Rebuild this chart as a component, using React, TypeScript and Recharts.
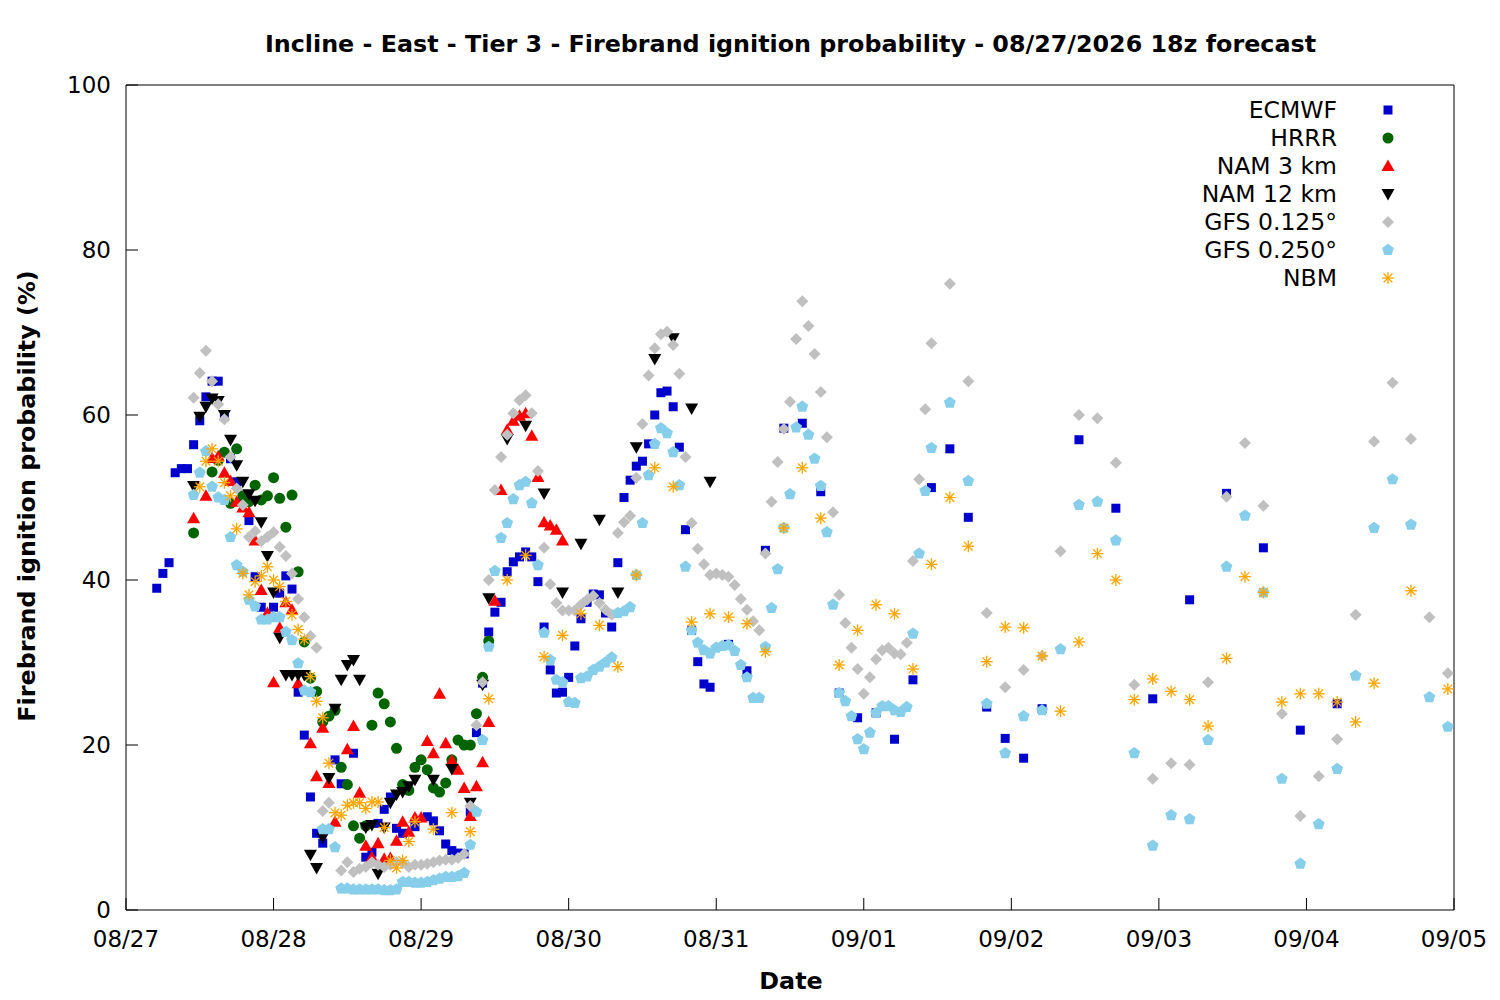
import React from 'react';
import { ScatterChart, Scatter, XAxis, YAxis } from 'recharts';

const FONT = '"DejaVu Sans", sans-serif';

// x = hours after 08/27 00z, y = probability (%)
const DAY_TICKS = [0, 24, 48, 72, 96, 120, 144, 168, 192, 216];
const DAY_LABELS = ['08/27', '08/28', '08/29', '08/30', '08/31', '09/01', '09/02', '09/03', '09/04', '09/05'];
const PROB_TICKS = [0, 20, 40, 60, 80, 100];

const ECMWF: [number, number][] = [
  [5, 39.0], [6, 40.8], [7, 42.1], [8, 53.0], [9, 53.5], [10, 53.5], [11, 56.4], [12, 59.3], [13, 62.2],
  [14, 64.1], [15, 64.1], [16, 59.8], [17, 54.7], [18, 51.9], [19, 50.1], [20, 47.2], [21, 40.4], [22, 36.7],
  [24, 36.7], [25, 38.4], [26, 40.5], [27, 38.9], [28, 26.4], [29, 21.2], [30, 13.7], [31, 9.3], [32, 8.1],
  [34, 18.2], [35, 15.3], [37, 19.0], [39, 6.4], [40, 7.0], [41, 10.5], [42, 12.2], [43, 13.7], [44, 9.9],
  [45, 9.3], [47, 10.1], [49, 11.3], [50, 10.8], [51, 9.6], [52, 8.0], [53, 7.2], [54, 6.9], [55, 6.8],
  [56, 11.9], [57, 21.5], [58, 27.5], [59, 33.7], [60, 36.1], [61, 37.3], [62, 41.0], [63, 42.2], [64, 42.8],
  [65, 43.4], [66, 42.8], [67, 39.8], [68, 34.3], [69, 29.1], [70, 26.3], [71, 26.4], [72, 28.2], [73, 32.0],
  [74, 35.3], [75, 37.3], [76, 38.3], [77, 38.2], [78, 36.0], [79, 34.3], [80, 42.1], [81, 50.0], [82, 52.1],
  [83, 53.8], [84, 54.4], [85, 56.5], [86, 60.0], [87, 62.7], [88, 62.9], [89, 61.0], [90, 56.1], [91, 46.1],
  [92, 33.9], [93, 30.1], [94, 27.4], [95, 27.0], [98, 32.2], [101, 29.0], [104, 43.6], [107, 58.4],
  [110, 59.0], [113, 50.7], [116, 26.3], [119, 23.3], [122, 23.9], [125, 20.7], [128, 27.9], [131, 51.2],
  [134, 55.9], [137, 47.6], [140, 24.6], [143, 20.8], [146, 18.4], [149, 24.4], [155, 57.0], [161, 48.7],
  [167, 25.6], [173, 37.6], [179, 50.5], [185, 43.9], [191, 21.8], [197, 25.0],
];

const HRRR: [number, number][] = [
  [11, 45.7], [14, 53.1], [15, 54.5], [16, 55.5], [17, 49.3], [18, 55.9], [19, 50.2], [20, 49.5],
  [21, 51.5], [22, 49.7], [23, 50.2], [24, 52.4], [25, 49.9], [26, 46.4], [27, 50.3], [28, 41.0],
  [29, 32.5], [30, 28.1], [31, 26.5], [32, 22.8], [33, 23.5], [34, 24.2], [35, 17.3], [36, 15.2],
  [37, 10.2], [38, 8.7], [39, 10.2], [40, 22.4], [41, 26.3], [42, 25.0], [43, 22.8], [44, 19.6],
  [45, 15.2], [46, 14.5], [47, 17.3], [48, 18.2], [49, 17.0], [50, 14.8], [51, 14.3], [52, 15.4],
  [53, 18.2], [54, 20.6], [55, 20.0], [56, 20.0], [57, 23.8], [58, 28.2], [59, 32.6],
];

const NAM3: [number, number][] = [
  [11, 47.5], [13, 50.2], [14, 54.8], [15, 55.0], [16, 53.0], [17, 52.0], [18, 49.5], [19, 48.8],
  [20, 48.2], [21, 44.8], [22, 38.8], [23, 36.0], [24, 27.6], [25, 34.2], [26, 37.3], [27, 36.4],
  [28, 27.5], [30, 20.2], [31, 16.2], [32, 22.1], [33, 15.4], [34, 10.7], [36, 19.5], [37, 22.3],
  [38, 14.2], [39, 7.8], [40, 6.4], [41, 8.1], [42, 6.2], [43, 6.3], [44, 8.4], [45, 10.7], [46, 9.5],
  [47, 11.2], [48, 11.2], [49, 20.5], [50, 19.0], [51, 26.2], [52, 20.2], [53, 18.1], [54, 17.0],
  [55, 14.8], [56, 11.4], [57, 15.0], [58, 17.9], [59, 22.8], [60, 37.5], [61, 50.9], [62, 58.2],
  [63, 59.3], [64, 59.9], [65, 60.2], [66, 57.5], [67, 52.5], [68, 47.0], [69, 46.6], [70, 46.1], [71, 44.8],
];

const NAM12: [number, number][] = [
  [11, 51.4], [12, 59.8], [13, 61.0], [14, 62.0], [15, 61.7], [16, 60.0], [17, 57.0], [18, 53.9],
  [19, 51.9], [20, 50.4], [21, 49.6], [22, 47.0], [23, 42.9], [24, 38.5], [25, 33.0], [26, 28.5],
  [27, 28.5], [28, 28.5], [29, 28.5], [30, 6.7], [31, 5.1], [32, 8.8], [33, 16.0], [34, 24.4],
  [35, 27.9], [36, 29.7], [37, 30.3], [38, 27.9], [39, 10.0], [40, 10.3], [41, 4.4], [42, 10.0],
  [43, 13.0], [44, 14.0], [45, 14.3], [46, 15.0], [47, 15.8], [50, 15.8], [53, 17.1], [56, 13.0],
  [58, 27.3], [59, 37.8], [62, 57.1], [65, 58.7], [68, 50.5], [71, 38.5], [74, 44.4], [77, 47.3],
  [80, 38.5], [83, 56.1], [86, 66.8], [89, 69.3], [92, 60.8], [95, 51.9],
];

const GFS125: [number, number][] = [
  [11, 62.1], [12, 65.1], [13, 67.8], [14, 64.1], [15, 61.3], [16, 59.5], [17, 54.9], [18, 51.1],
  [19, 49.1], [20, 45.2], [21, 45.9], [22, 44.7], [23, 45.2], [24, 45.8], [25, 44.0], [26, 42.9],
  [27, 40.8], [28, 37.7], [29, 35.5], [30, 33.2], [31, 31.8], [32, 12.0], [33, 13.0], [35, 4.8],
  [36, 5.8], [37, 4.6], [38, 5.0], [39, 5.2], [40, 5.8], [41, 5.5], [42, 5.2], [43, 5.5], [44, 5.8],
  [45, 5.7], [46, 5.2], [47, 5.5], [48, 5.5], [49, 5.6], [50, 5.8], [51, 6.0], [52, 6.1], [53, 6.1],
  [54, 6.3], [55, 6.8], [56, 12.6], [57, 22.4], [58, 27.6], [59, 40.0], [60, 50.9], [61, 54.9],
  [62, 57.6], [63, 60.2], [64, 61.8], [65, 62.4], [66, 60.2], [67, 53.2], [68, 43.9], [69, 39.5],
  [70, 37.2], [71, 36.3], [72, 36.3], [73, 36.3], [74, 37.0], [75, 37.6], [76, 38.1], [77, 37.2],
  [78, 36.4], [79, 35.8], [80, 45.7], [81, 47.0], [82, 47.8], [83, 52.4], [84, 58.9], [85, 64.8],
  [86, 68.1], [87, 69.8], [88, 70.1], [89, 68.5], [90, 65.0], [91, 54.9], [92, 46.9], [93, 43.8],
  [94, 41.9], [95, 40.6], [96, 40.8], [97, 40.6], [98, 40.4], [99, 39.4], [100, 37.7], [101, 36.4],
  [102, 35.0], [103, 33.9], [104, 43.2], [105, 49.5], [106, 54.3], [107, 58.3], [108, 61.6],
  [109, 69.2], [110, 73.8], [111, 70.8], [112, 67.4], [113, 62.8], [114, 57.3], [115, 48.2],
  [116, 38.2], [117, 34.8], [118, 31.8], [119, 29.2], [120, 26.2], [121, 28.2], [122, 30.4],
  [123, 31.5], [124, 31.8], [125, 31.1], [126, 31.0], [127, 32.4], [128, 42.3], [129, 52.2],
  [130, 60.7], [131, 68.7], [134, 75.9], [137, 64.1], [140, 36.0], [143, 27.0], [146, 29.1],
  [149, 30.8], [152, 43.5], [155, 60.0], [158, 59.6], [161, 54.2], [164, 27.3], [167, 15.9],
  [170, 17.8], [173, 17.6], [176, 27.6], [179, 50.1], [182, 56.6], [185, 49.0], [188, 23.8],
  [191, 11.4], [194, 16.2], [197, 20.7], [200, 35.8], [203, 56.8], [206, 63.9], [209, 57.1],
  [212, 35.5], [215, 28.7],
];

const GFS250: [number, number][] = [
  [11, 50.3], [12, 53.0], [13, 55.6], [14, 51.3], [15, 50.0], [16, 49.7], [17, 45.2], [18, 41.8],
  [19, 41.0], [20, 37.6], [21, 36.8], [22, 35.2], [23, 35.2], [24, 35.5], [25, 35.5], [26, 33.7],
  [27, 32.7], [28, 29.9], [29, 26.6], [30, 26.4], [32, 9.8], [33, 9.8], [34, 7.6], [35, 2.6],
  [36, 2.6], [37, 2.5], [38, 2.5], [39, 2.5], [40, 2.5], [41, 2.5], [42, 2.4], [43, 2.4], [44, 2.5],
  [45, 3.4], [46, 3.4], [47, 3.3], [48, 3.3], [49, 3.4], [50, 3.6], [51, 3.8], [52, 4.0], [53, 4.0],
  [54, 4.1], [55, 4.5], [56, 7.9], [57, 11.9], [58, 20.6], [59, 31.9], [60, 41.1], [61, 45.1],
  [62, 46.9], [63, 49.8], [64, 51.5], [65, 51.9], [66, 49.3], [67, 41.8], [68, 33.6], [69, 30.3],
  [70, 27.9], [71, 27.6], [72, 25.2], [73, 25.1], [74, 28.1], [75, 28.3], [76, 29.1], [77, 29.5],
  [78, 30.0], [79, 30.6], [80, 36.0], [81, 36.2], [82, 36.7], [83, 40.6], [84, 46.9], [85, 52.7],
  [86, 56.5], [87, 58.4], [88, 57.8], [89, 55.5], [90, 51.5], [91, 41.6], [92, 33.9], [93, 32.4],
  [94, 31.5], [95, 31.1], [96, 31.8], [97, 32.0], [98, 32.1], [99, 31.4], [100, 29.7], [101, 28.2],
  [102, 25.7], [103, 25.7], [104, 31.9], [105, 36.6], [106, 41.3], [107, 46.3], [108, 50.4],
  [109, 58.5], [110, 61.0], [111, 57.6], [112, 54.7], [113, 51.4], [114, 45.8], [115, 37.0],
  [116, 26.3], [117, 25.3], [118, 23.5], [119, 20.7], [120, 19.5], [121, 21.5], [122, 23.9],
  [123, 24.7], [124, 24.7], [125, 24.2], [126, 24.0], [127, 24.6], [128, 33.5], [129, 43.2],
  [130, 50.8], [131, 56.0], [134, 61.5], [137, 52.0], [140, 25.0], [143, 19.0], [146, 23.5],
  [149, 24.2], [152, 31.6], [155, 49.1], [158, 49.5], [161, 44.8], [164, 19.0], [167, 7.8],
  [170, 11.5], [173, 11.0], [176, 20.6], [179, 41.6], [182, 47.8], [185, 38.5], [188, 15.9],
  [191, 5.6], [194, 10.4], [197, 17.1], [200, 28.4], [203, 46.3], [206, 52.2], [209, 46.7],
  [212, 25.8], [215, 22.2],
];

const NBM: [number, number][] = [
  [12, 51.3], [13, 54.4], [14, 55.9], [15, 54.4], [16, 51.8], [17, 50.2], [18, 46.2], [19, 40.8],
  [20, 38.2], [21, 39.8], [22, 40.5], [23, 41.6], [24, 40.0], [25, 39.2], [26, 37.4], [27, 35.8],
  [28, 34.0], [29, 32.8], [30, 28.3], [31, 25.3], [32, 23.3], [33, 17.8], [34, 11.8], [35, 11.5],
  [36, 12.7], [37, 13.0], [38, 13.0], [39, 12.3], [40, 13.1], [41, 13.1], [42, 10.0], [43, 6.0],
  [44, 5.1], [45, 6.0], [46, 8.3], [47, 10.7], [50, 9.8], [53, 11.8], [56, 9.5], [59, 25.6],
  [62, 40.0], [65, 43.0], [68, 30.7], [71, 33.3], [74, 35.9], [77, 34.5], [80, 29.5], [83, 40.6],
  [86, 53.6], [89, 51.3], [92, 34.9], [95, 35.9], [98, 35.5], [101, 34.7], [104, 31.3], [107, 46.3],
  [110, 53.6], [113, 47.5], [116, 29.7], [119, 33.9], [122, 37.0], [125, 35.9], [128, 29.2],
  [131, 41.9], [134, 50.0], [137, 44.1], [140, 30.1], [143, 34.3], [146, 34.2], [149, 30.8],
  [152, 24.1], [155, 32.5], [158, 43.2], [161, 40.0], [164, 25.5], [167, 28.0], [170, 26.5],
  [173, 25.5], [176, 22.3], [179, 30.5], [182, 40.4], [185, 38.5], [188, 25.2], [191, 26.2],
  [194, 26.2], [197, 25.2], [200, 22.8], [203, 27.5], [209, 38.7], [215, 26.8],
];

type Marker = (cx: number, cy: number) => React.ReactElement;

const square = (color: string): Marker => (cx, cy) => (
  <rect x={cx - 4.5} y={cy - 4.5} width={9} height={9} fill={color} />
);
const circle = (color: string): Marker => (cx, cy) => <circle cx={cx} cy={cy} r={5.5} fill={color} />;
const triUp = (color: string): Marker => (cx, cy) => (
  <polygon points={`${cx},${cy - 6.5} ${cx + 6.5},${cy + 5} ${cx - 6.5},${cy + 5}`} fill={color} />
);
const triDown = (color: string): Marker => (cx, cy) => (
  <polygon points={`${cx},${cy + 6.5} ${cx + 6.5},${cy - 5} ${cx - 6.5},${cy - 5}`} fill={color} />
);
const diamond = (color: string): Marker => (cx, cy) => (
  <polygon points={`${cx},${cy - 6} ${cx + 6},${cy} ${cx},${cy + 6} ${cx - 6},${cy}`} fill={color} />
);
const pentagon = (color: string): Marker => (cx, cy) => {
  const pts = [0, 1, 2, 3, 4].map((k) => {
    const a = (-90 + 72 * k) * Math.PI / 180;
    return `${cx + 6.2 * Math.cos(a)},${cy + 6.2 * Math.sin(a)}`;
  });
  return <polygon points={pts.join(' ')} fill={color} />;
};
const asterisk = (color: string): Marker => (cx, cy) => (
  <g stroke={color} strokeWidth={1.3}>
    <line x1={cx - 6} y1={cy} x2={cx + 6} y2={cy} />
    <line x1={cx} y1={cy - 6} x2={cx} y2={cy + 6} />
    <line x1={cx - 4.3} y1={cy - 4.3} x2={cx + 4.3} y2={cy + 4.3} />
    <line x1={cx - 4.3} y1={cy + 4.3} x2={cx + 4.3} y2={cy - 4.3} />
  </g>
);

const SERIES = [
  { name: 'ECMWF', data: ECMWF, marker: square('#0000cc') },
  { name: 'HRRR', data: HRRR, marker: circle('#006400') },
  { name: 'NAM 3 km', data: NAM3, marker: triUp('#ff0000') },
  { name: 'NAM 12 km', data: NAM12, marker: triDown('#000000') },
  { name: 'GFS 0.125°', data: GFS125, marker: diamond('#c0c0c0') },
  { name: 'GFS 0.250°', data: GFS250, marker: pentagon('#87ceeb') },
  { name: 'NBM', data: NBM, marker: asterisk('#ffa500') },
];

const BottomTick = (p: any) => (
  <g>
    <line x1={p.x} y1={p.y} x2={p.x} y2={p.y - 12} stroke="#000" />
    <text x={p.x} y={p.y + 37} textAnchor="middle" fontSize={23} fontFamily={FONT} fill="#000">
      {DAY_LABELS[DAY_TICKS.indexOf(p.payload.value)]}
    </text>
  </g>
);
const TopTick = (p: any) => <line x1={p.x} y1={p.y} x2={p.x} y2={p.y + 12} stroke="#000" />;
const LeftTick = (p: any) => (
  <g>
    <line x1={p.x} y1={p.y} x2={p.x + 12} y2={p.y} stroke="#000" />
    <text x={p.x - 15} y={p.y + 8} textAnchor="end" fontSize={23} fontFamily={FONT} fill="#000">
      {p.payload.value}
    </text>
  </g>
);
const RightTick = (p: any) => <line x1={p.x} y1={p.y} x2={p.x - 12} y2={p.y} stroke="#000" />;

const bold: React.CSSProperties = {
  position: 'absolute', fontFamily: FONT, fontWeight: 'bold', fontSize: 23.8,
  lineHeight: '28px', whiteSpace: 'nowrap', color: '#000',
};

export default function App() {
  return (
    <div style={{ position: 'absolute', left: 0, top: 0, width: 1500, height: 1000, background: '#fff' }}>
      <ScatterChart width={1500} height={1000} margin={{ top: 84, right: 45, bottom: 50, left: 66 }}>
        <XAxis
          type="number" dataKey="x" domain={[0, 216]} ticks={DAY_TICKS} interval={0}
          height={40} tickSize={0} tickMargin={0} tick={BottomTick} axisLine={{ stroke: '#000' }}
        />
        <XAxis
          xAxisId="top" orientation="top" type="number" domain={[0, 216]} ticks={DAY_TICKS}
          interval={0} height={1} tickSize={0} tickMargin={0} tick={TopTick} axisLine={{ stroke: '#000' }}
        />
        <YAxis
          type="number" dataKey="y" domain={[0, 100]} ticks={PROB_TICKS} interval={0}
          width={60} tickSize={0} tickMargin={0} tick={LeftTick} axisLine={{ stroke: '#000' }}
        />
        <YAxis
          yAxisId="right" orientation="right" type="number" domain={[0, 100]} ticks={PROB_TICKS}
          interval={0} width={1} tickSize={0} tickMargin={0} tick={RightTick} axisLine={{ stroke: '#000' }}
        />
        {SERIES.map((s) => (
          <Scatter
            key={s.name}
            name={s.name}
            data={s.data.map(([x, y]) => ({ x, y }))}
            isAnimationActive={false}
            shape={(p: any) => s.marker(p.cx, p.cy)}
          />
        ))}
      </ScatterChart>

      <div style={{ ...bold, left: 40, top: 29.5, width: 1501, textAlign: 'center' }}>
        Incline - East - Tier 3 - Firebrand ignition probability - 08/27/2026 18z forecast
      </div>
      <div style={{ ...bold, left: 491, top: 966.5, width: 600, textAlign: 'center' }}>Date</div>
      <div style={{ ...bold, left: -273, top: 482, width: 600, height: 28, textAlign: 'center', transform: 'rotate(-90deg)' }}>
        Firebrand ignition probability (%)
      </div>

      {SERIES.map((s, i) => (
        <React.Fragment key={s.name}>
          <div
            style={{
              position: 'absolute', left: 1037, top: 96 + 28 * i, width: 300, textAlign: 'right',
              fontFamily: FONT, fontSize: 23.5, lineHeight: '28px', whiteSpace: 'nowrap', color: '#000',
            }}
          >
            {s.name}
          </div>
          <svg style={{ position: 'absolute', left: 1378, top: 96 + 28 * i }} width={20} height={28}>
            {s.marker(10, 14)}
          </svg>
        </React.Fragment>
      ))}
    </div>
  );
}
